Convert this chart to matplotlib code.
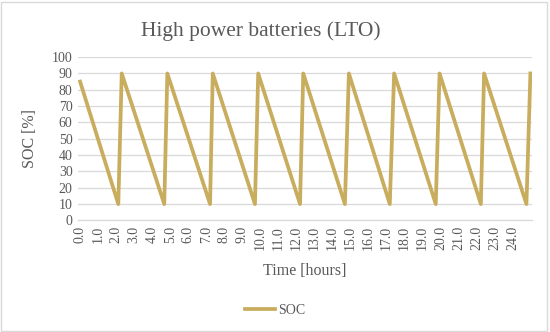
import matplotlib.pyplot as plt
from matplotlib.patches import Rectangle

# SOC sawtooth (hours, %)
hours = [0.0, 2.12, 2.31, 4.67, 4.84, 7.21, 7.36, 9.70, 9.88, 12.20, 12.38,
         14.69, 14.91, 17.18, 17.42, 19.73, 19.94, 22.23, 22.41, 24.76, 24.98]
soc = [85, 10, 90, 10, 90, 10, 90, 10, 90, 10, 90,
       10, 90, 10, 90, 10, 90, 10, 90, 10, 90]
xticks = list(range(0, 25))
yticks = list(range(0, 101, 10))

line_col = '#C9AD5E'
text_col = '#595959'
grid_col = '#D9D9D9'
serif = 'Liberation Serif'

fig = plt.figure(figsize=(5.5, 3.32), dpi=100)
ax = fig.add_axes([0.142, 0.336, 0.825, 0.492])

ax.plot(hours, soc, color=line_col, linewidth=2.7, label='SOC',
        solid_joinstyle='round')

ax.set_xlim(-0.11, 25.06)
ax.set_ylim(0, 100)
ax.set_yticks(yticks)
ax.set_xticks(xticks)
ax.set_xticklabels(['%.1f' % t for t in xticks], rotation=90)
ax.tick_params(length=0, colors=text_col, labelsize=10, pad=4)
for lab in ax.get_xticklabels() + ax.get_yticklabels():
    lab.set_family(serif)

ax.yaxis.grid(True, color=grid_col, linewidth=0.9)
ax.set_axisbelow(True)
for s in ['top', 'right', 'left']:
    ax.spines[s].set_visible(False)
ax.spines['bottom'].set_color(grid_col)
ax.spines['bottom'].set_linewidth(0.9)

ax.set_xlabel('Time [hours]', family=serif, fontsize=11.5, color=text_col, labelpad=9)
ax.set_ylabel('SOC [%]', family=serif, fontsize=11.5, color=text_col, labelpad=10)

fig.text(0.475, 0.905, 'High power batteries (LTO)', family=serif, fontsize=15.5,
         color=text_col, ha='center', va='center')

leg = fig.legend(loc='center', bbox_to_anchor=(0.5, 0.065), frameon=False,
                 prop={'family': serif, 'size': 10}, handlelength=2.2,
                 handletextpad=0.2)
for t in leg.get_texts():
    t.set_color(text_col)

fig.patches.append(Rectangle((0.002, 0.003), 0.992, 0.99, transform=fig.transFigure,
                             fill=False, edgecolor='#D9D9D9', linewidth=1))

fig.savefig('out.png', dpi=100, facecolor='white')
